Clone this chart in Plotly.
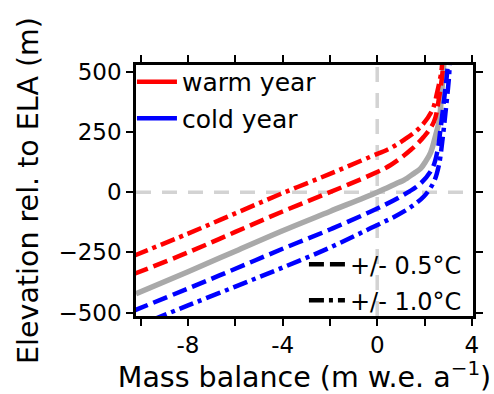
import plotly.graph_objects as go

# ---- data ----
ref_x = [-10.2, -8, -6, -4, -2, 0, 0.85, 1.13, 1.55, 1.84, 2.05, 2.26, 2.47, 2.63, 2.7, 2.76, 2.82]
ref_y = [-422, -330, -245, -160, -80, 0, 38, 50, 78, 99, 128, 165, 236, 300, 380, 458, 540]

warm05_x = [-10.3, -8, -6, -4, -2, -0.27, 0.57, 1.41, 1.97, 2.4, 2.61, 2.75, 2.8]
warm05_y = [-340, -250, -165, -80, 0, 72, 113, 175, 230, 293, 389, 486, 540]

warm10_x = [-10.3, -8, -6, -4, -2, -0.27, 0.5, 1.13, 1.84, 2.33, 2.54, 2.71, 2.75]
warm10_y = [-264, -172, -88, -4, 76, 148, 180, 217, 272, 341, 417, 500, 540]

cold05_x = [-10.3, -8, -6, -4, -2, -0.27, 0.99, 1.84, 2.33, 2.54, 2.68, 2.85, 2.96, 2.99]
cold05_y = [-492, -400, -318, -235, -155, -80, -18, 37, 99, 168, 265, 403, 500, 540]

cold10_x = [-9.5, -8, -6, -4, -2, -0.27, 1.13, 1.97, 2.4, 2.61, 2.75, 2.89, 3.03, 3.07]
cold10_y = [-530, -470, -392, -313, -230, -149, -80, -18, 44, 113, 210, 334, 472, 540]

x_tickvals = [-8, -4, 0, 4]
x_ticktext = ["-8", "-4", "0", "4"]
y_tickvals = [500, 250, 0, -250, -500]
y_ticktext = ["500", "250", "0", "\u2212250", "\u2212500"]

RED = "#ff0000"
BLUE = "#0000ff"
GRAY = "#a9a9a9"
LGRAY = "#d3d3d3"
DASH = "15px,6px"
DASHDOT = "15px,5px,4px,5px"
FONT = "DejaVu Sans"

fig = go.Figure()

# reference dashed lines through origin
fig.add_hline(y=0, line=dict(color=LGRAY, width=3.5, dash="15px,11px"), layer="below")
fig.add_vline(x=0, line=dict(color=LGRAY, width=3.5, dash="15px,11px"), layer="below")

fig.add_trace(go.Scatter(x=ref_x, y=ref_y, mode="lines", line=dict(color=GRAY, width=5.5, shape="spline"),
                         showlegend=False))
fig.add_trace(go.Scatter(x=warm05_x, y=warm05_y, mode="lines",
                         line=dict(color=RED, width=4.5, dash=DASH, shape="spline"), showlegend=False))
fig.add_trace(go.Scatter(x=warm10_x, y=warm10_y, mode="lines",
                         line=dict(color=RED, width=4.5, dash=DASHDOT, shape="spline"), showlegend=False))
fig.add_trace(go.Scatter(x=cold05_x, y=cold05_y, mode="lines",
                         line=dict(color=BLUE, width=4.5, dash=DASH, shape="spline"), showlegend=False))
fig.add_trace(go.Scatter(x=cold10_x, y=cold10_y, mode="lines",
                         line=dict(color=BLUE, width=4.5, dash=DASHDOT, shape="spline"), showlegend=False))

# legend entries
fig.add_trace(go.Scatter(x=[None], y=[None], mode="lines", name="warm year",
                         line=dict(color=RED, width=4.5), legend="legend", legendgroup="a"))
fig.add_trace(go.Scatter(x=[None], y=[None], mode="lines", name="cold year",
                         line=dict(color=BLUE, width=4.5), legend="legend", legendgroup="b"))
fig.add_trace(go.Scatter(x=[None], y=[None], mode="lines", name="+/- 0.5\u00b0C",
                         line=dict(color="black", width=4.5, dash=DASH), legend="legend2", legendgroup="c"))
fig.add_trace(go.Scatter(x=[None], y=[None], mode="lines", name="+/- 1.0\u00b0C",
                         line=dict(color="black", width=4.5, dash=DASHDOT), legend="legend2", legendgroup="d"))

axis_common = dict(showline=True, linecolor="black", linewidth=2.5, mirror="allticks",
                   ticks="outside", ticklen=7, tickwidth=2, tickcolor="black",
                   showgrid=False, zeroline=False, tickfont=dict(family=FONT, size=23, color="black"))

fig.update_xaxes(range=[-10.2, 4.05], tickmode="array", tickvals=x_tickvals, ticktext=x_ticktext,
                 minor=dict(dtick=2, tick0=0, ticks="outside", ticklen=7, tickwidth=2, tickcolor="black",
                            showgrid=False),
                 title=dict(text="Mass balance (m w.e. a<sup>\u22121</sup>)", font=dict(family=FONT, size=28.5, color="black"),
                            standoff=4),
                 **axis_common)
fig.update_yaxes(range=[-514, 528], tickmode="array", tickvals=y_tickvals, ticktext=y_ticktext,
                 title=dict(text="Elevation rel. to ELA (m)", font=dict(family=FONT, size=28.5, color="black"),
                            standoff=12),
                 **axis_common)

fig.update_layout(
    width=494, height=394,
    margin=dict(l=136, r=21, t=65, b=78),
    paper_bgcolor="white", plot_bgcolor="white",
    font=dict(family=FONT, color="black"),
    legend=dict(x=-0.012, y=1.024, xanchor="left", yanchor="top", bgcolor="rgba(0,0,0,0)",
                font=dict(family=FONT, size=25, color="black"), tracegroupgap=1, itemwidth=40),
    legend2=dict(x=0.982, y=-0.028, xanchor="right", yanchor="bottom", bgcolor="rgba(0,0,0,0)",
                 font=dict(family=FONT, size=24, color="black"), tracegroupgap=2, itemwidth=36),
)

fig.write_html("out.html")
